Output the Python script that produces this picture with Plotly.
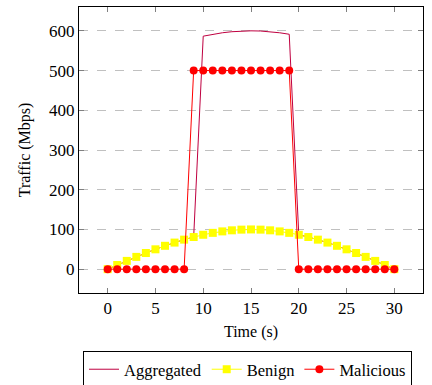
import plotly.graph_objects as go

time_s = list(range(31))
benign = [0, 10.5, 20.8, 30.9, 40.7, 50, 58.8, 66.9, 74.3, 80.9, 86.6,
          91.4, 95.1, 97.8, 99.5, 100, 99.5, 97.8, 95.1, 91.4, 86.6,
          80.9, 74.3, 66.9, 58.8, 50, 40.7, 30.9, 20.8, 10.5, 0]
malicious = [0, 0, 0, 0, 0, 0, 0, 0, 0, 500, 500,
             500, 500, 500, 500, 500, 500, 500, 500, 500, 0,
             0, 0, 0, 0, 0, 0, 0, 0, 0, 0]
aggregated = [0, 10.5, 20.8, 30.9, 40.7, 50, 58.8, 66.9, 74.3, 80.9, 586.6,
              591.4, 595.1, 597.8, 599.5, 600, 599.5, 597.8, 595.1, 591.4, 86.6,
              80.9, 74.3, 66.9, 58.8, 50, 40.7, 30.9, 20.8, 10.5, 0]
x_ticks = [0, 5, 10, 15, 20, 25, 30]
y_ticks = [0, 100, 200, 300, 400, 500, 600]
x_ticktext = [str(v) for v in x_ticks]
y_ticktext = [str(v) for v in y_ticks]

FONT = "Liberation Serif"
tf = dict(family=FONT, size=16, color="black")
tickf = dict(family=FONT, size=17, color="black", weight="normal")
legf = dict(family=FONT, size=16.5, color="black")

fig = go.Figure()
fig.add_trace(go.Scatter(x=time_s, y=aggregated, mode="lines", name="Aggregated",
                         line=dict(color="#bf0040", width=1)))
fig.add_trace(go.Scatter(x=time_s, y=benign, mode="lines+markers", name="Benign",
                         line=dict(color="#ffff00", width=1),
                         marker=dict(symbol="square", size=8, color="#ffff00")))
fig.add_trace(go.Scatter(x=time_s, y=malicious, mode="lines+markers", name="Malicious",
                         line=dict(color="#ff0000", width=1),
                         marker=dict(symbol="circle", size=8, color="#ff0000")))

fig.update_layout(
    width=432, height=385,
    margin=dict(l=79, r=9, t=7, b=92, autoexpand=False),
    paper_bgcolor="white", plot_bgcolor="white",
    font=tf,
    showlegend=True,
    legend=dict(orientation="h", x=247.5 / 432, xanchor="center", xref="container",
                y=1 - 351 / 385, yanchor="top", yref="container",
                bordercolor="black", borderwidth=1, font=legf,
                itemwidth=30, tracegroupgap=0),
    xaxis=dict(range=[-3, 33], tickmode="array", tickvals=x_ticks, ticktext=x_ticktext,
               ticks="inside", ticklen=5,
               tickcolor="#808080", showline=True, linecolor="black", linewidth=1,
               mirror="ticks", showgrid=False, zeroline=False, tickfont=tickf,
               title=dict(text="Time (s)", standoff=8, font=tf)),
    yaxis=dict(range=[-60, 660], tickmode="array", tickvals=y_ticks, ticktext=y_ticktext,
               ticks="inside", ticklen=5,
               tickcolor="#808080", showline=True, linecolor="black", linewidth=1,
               mirror="ticks", showgrid=True, gridcolor="#c0c0c0", griddash="dash",
               gridwidth=1, zeroline=False, tickfont=tickf,
               title=dict(text="Traffic (Mbps)", standoff=14, font=tf)),
)

fig.write_html("out.html")
